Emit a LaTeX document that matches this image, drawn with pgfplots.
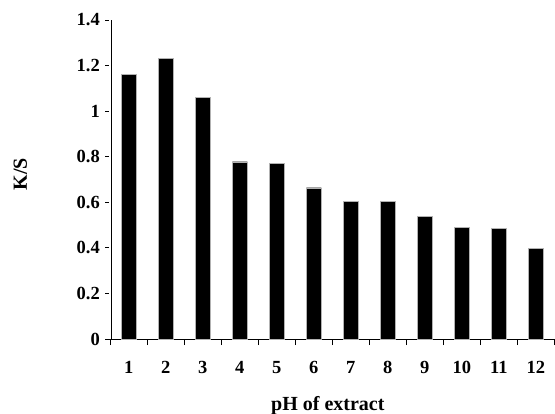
\documentclass[border=0pt]{standalone}
\usepackage{pgfplots}
\pgfplotsset{compat=1.18}
\usepackage{fontspec}
\setmainfont{Liberation Serif}
\begin{document}
\begin{tikzpicture}
\begin{axis}[
  name=ax,
  scale only axis,
  width=444bp, height=319bp,
  xmin=0.5, xmax=12.5,
  ymin=0, ymax=1.4,
  axis x line=bottom,
  axis y line=left,
  axis line style={-, line width=0.9bp},
  y axis line style={double, double distance=1.6bp, line width=0.7bp},
  xtick={1,...,12},
  major x tick style={draw=none},
  minor xtick={0.5,1.5,...,12.5},
  ytick={0,0.2,...,1.4},
  tick align=outside,
  tick style={black, line width=0.8bp},
  major tick length=5bp,
  minor tick length=6bp,
  /pgf/number format/assume math mode=true,
  font=\bfseries,
  ticklabel style={font=\fontsize{18.5bp}{21bp}\selectfont\bfseries},
  xticklabel style={yshift=-14bp},
  yticklabel style={xshift=-2bp},
  xlabel={pH of extract},
  ylabel={K/S},
  label style={font=\fontsize{20bp}{23bp}\selectfont\bfseries},
  xlabel style={at={(rel axis cs:0.49,0)}, anchor=base, yshift=-71bp},
  ylabel style={at={(rel axis cs:0,0.517)}, anchor=center, yshift=90bp},
  clip=false,
]
\addplot[ybar, bar width=15bp, fill=black, draw=gray!60, line width=0.4bp] coordinates {
(1,1.161) (2,1.233) (3,1.060) (4,0.778) (5,0.770) (6,0.664)
(7,0.605) (8,0.605) (9,0.539) (10,0.491) (11,0.485) (12,0.397)
};
\end{axis}
\pgfresetboundingbox
\path[use as bounding box] ([shift={(-110.3bp,-75bp)}]ax.south west) rectangle ([shift={(0.7bp,20bp)}]ax.north east);
\end{tikzpicture}
\end{document}
